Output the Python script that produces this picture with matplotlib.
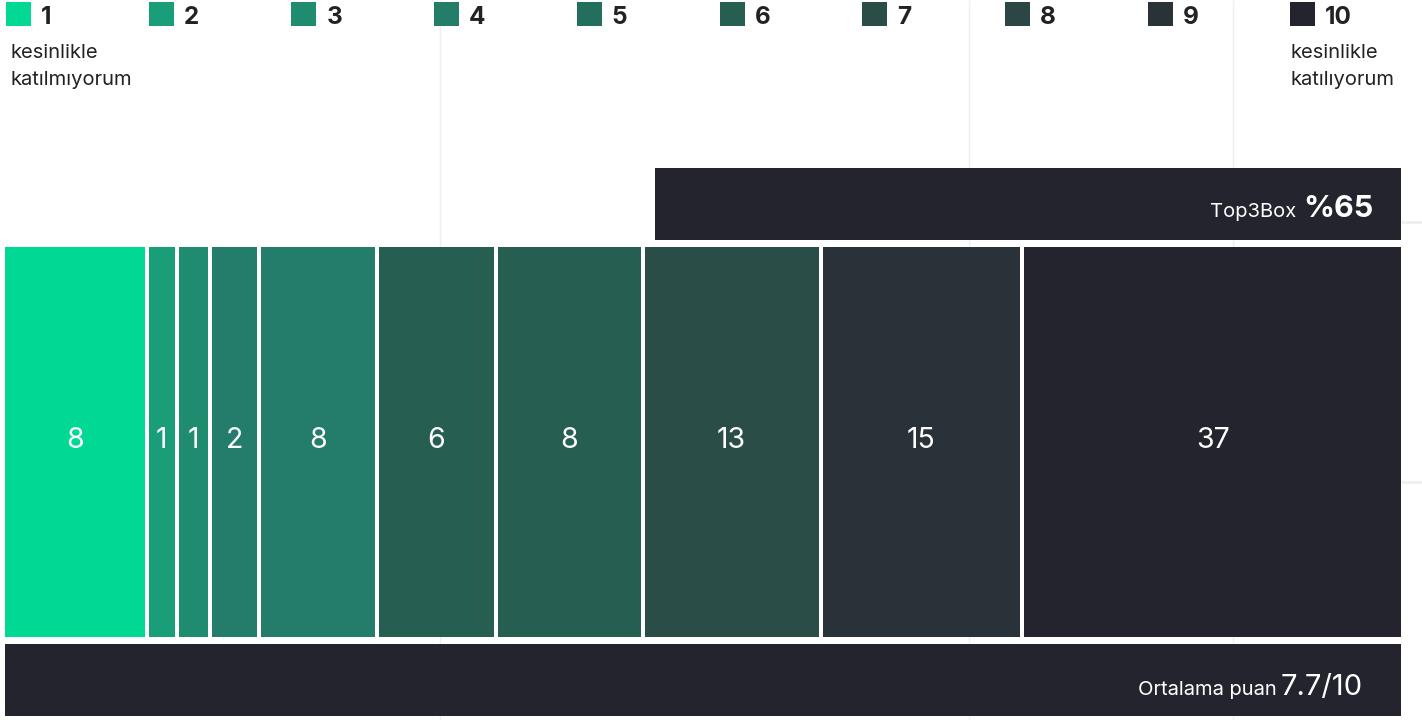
import numpy as np
import matplotlib.pyplot as plt
from matplotlib.patches import Rectangle

plt.rcParams['font.family'] = ['Inter', 'DejaVu Sans']

# score categories 1..10, share of answers (%) shown in each bar
scores = ['1', '2', '3', '4', '5', '6', '7', '8', '9', '10']
values = [8, 1, 1, 2, 8, 6, 8, 13, 15, 37]
# drawn width of each bar (percent of the full row)
widths = np.array([10.3, 2.1, 2.4, 3.5, 8.4, 8.5, 10.5, 12.7, 14.4, 27.2])
legend_colors = ['#00D894', '#1A9E7A', '#1F8C70', '#237D69', '#246E5E',
                 '#265E51', '#2A4D47', '#2B4644', '#283237', '#24242E']
bar_colors = ['#00D894', '#1A9E7A', '#1F8C70', '#237D6A', '#237D6A',
              '#265E51', '#265E51', '#2B4D48', '#283238', '#24242E']
top3_start = 46.4      # left edge of the Top3Box band (percent)
top3_value = 65
mean_score = 7.7
dark = '#24242E'
grid_col = '#EFEFEF'

fig = plt.figure(figsize=(14.22, 7.2), dpi=100)

# background layer in pixel units: grid, legend, captions
bg = fig.add_axes([0, 0, 1, 1])
bg.set_xlim(0, 1422)
bg.set_ylim(720, 0)
bg.axis('off')
bg.vlines([440, 969, 1233], 0, 720, color=grid_col, lw=1, zorder=0)
bg.hlines([222, 482], 1401, 1422, color=grid_col, lw=2, zorder=0)

for i, (s, c) in enumerate(zip(scores, legend_colors)):
    x0 = 6 + i * 142.7
    bg.add_patch(Rectangle((x0, 2), 25, 24, color=c, lw=0))
    bg.text(x0 + 35, 23.5, s, fontsize=17.5, fontweight='bold', color='#222222',
            ha='left', va='baseline')

bg.text(11, 58, 'kesinlikle', fontsize=14.5, color='#222222', va='baseline')
bg.text(11, 85, 'katılmıyorum', fontsize=14.5, color='#222222', va='baseline')
bg.text(1290, 58, 'kesinlikle', fontsize=14.5, color='#222222', va='baseline')
bg.text(1290, 85, 'katılıyorum', fontsize=14.5, color='#222222', va='baseline')

# data layer: x in percent of the row
ax = fig.add_axes([5 / 1422, 0, 1400 / 1422, 1])
ax.set_xlim(0, 100)
ax.set_ylim(720, 0)
ax.axis('off')
ax.patch.set_alpha(0)

gap = 4 / 14.0
lefts = np.cumsum(widths) - widths
ax.bar(lefts, 390, width=widths - gap, bottom=247, align='edge',
       color=bar_colors, lw=0)
for l, w, v in zip(lefts, widths, values):
    ax.text(l + (w - gap) / 2, 441, str(v), color='white', fontsize=20.5,
            ha='center', va='center')

ax.bar(top3_start, 72, width=100 - gap - top3_start, bottom=168,
       align='edge', color=dark, lw=0)
ax.bar(0, 72, width=100 - gap, bottom=644, align='edge', color=dark, lw=0)

# captions inside the dark bands, placed in pixel units but drawn on top
px = bg.transData
ax.text(1296, 217, 'Top3Box', color='white', fontsize=14.5, ha='right',
        va='baseline', transform=px)
ax.text(1373, 217, f'%{top3_value}', color='white', fontsize=22,
        fontweight='bold', ha='right', va='baseline', transform=px)
ax.text(1277, 695, 'Ortalama puan', color='white', fontsize=14.5, ha='right',
        va='baseline', transform=px)
ax.text(1363, 695, f'{mean_score}/10', color='white', fontsize=21,
        ha='right', va='baseline', transform=px)

fig.savefig('out.png', dpi=100)
